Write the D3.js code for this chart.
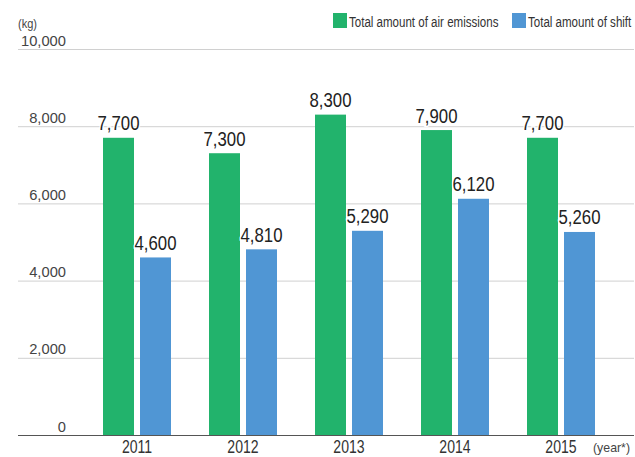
<!DOCTYPE html>
<html><head><meta charset="utf-8">
<script src="https://cdn.jsdelivr.net/npm/d3@7"></script>
<style>
html,body{margin:0;padding:0;background:#fff;}
svg{display:block;}
text{font-family:"Liberation Sans",Arial,sans-serif;}
</style></head>
<body>
<svg id="chart" width="635" height="457"></svg>
<script>
const years = ["2011","2012","2013","2014","2015"];
const seriesNames = ["Total amount of air emissions","Total amount of shift"];
const airEmissions = [7700,7300,8300,7900,7700];
const shiftAmount = [4600,4810,5290,6120,5260];
const yTicks = [0,2000,4000,6000,8000,10000];
const colors = ["#22b36c","#5096d4"];

const svg = d3.select("#chart");
const fmt = d3.format(",");

// condensed placement helper: place text at (x,y), squeezed horizontally by sx
function place(sel, fx, fy, sx){
  sel.attr("x",0).attr("y",0)
     .attr("transform",(d,i)=>`translate(${fx(d,i)},${fy(d,i)}) scale(${sx},1)`);
  return sel;
}

const y = d3.scaleLinear().domain([0,10000]).range([435,49]);
const x0 = d3.scaleBand().domain(years).range([84,614]).paddingInner(38/106).paddingOuter(19/106);
const x1 = d3.scaleBand().domain(seriesNames).range([0,x0.bandwidth()]).paddingInner(6/37);

// grid
svg.append("g").selectAll("line").data(yTicks.filter(d=>d>0)).join("line")
  .attr("x1",18).attr("x2",634).attr("y1",d=>y(d)+0.5).attr("y2",d=>y(d)+0.5)
  .attr("stroke","#d0d0d0").attr("stroke-width",1);

// tick labels
place(svg.append("g").selectAll("text").data(yTicks).join("text"),
      ()=>66, d=>y(d)-3.5, 0.95)
  .attr("text-anchor","end").attr("font-size",15.5).attr("fill","#444").text(d=>fmt(d));

place(svg.append("text").datum(0), ()=>18, ()=>28, 0.85)
  .attr("font-size",13).attr("fill","#444").text("(kg)");

// bars
const data = years.map((yr,i)=>({year:yr, vals:[airEmissions[i],shiftAmount[i]]}));
const groups = svg.append("g").selectAll("g").data(data).join("g")
  .attr("transform",d=>`translate(${x0(d.year)},0)`);
groups.selectAll("rect").data(d=>d.vals.map((v,j)=>({name:seriesNames[j],v,j}))).join("rect")
  .attr("x",d=>x1(d.name)).attr("width",x1.bandwidth())
  .attr("y",d=>y(d.v)).attr("height",d=>y(0)-y(d.v))
  .attr("fill",d=>colors[d.j]);
place(groups.selectAll("text").data(d=>d.vals.map((v,j)=>({name:seriesNames[j],v,j}))).join("text"),
      d=>x1(d.name)+x1.bandwidth()/2, d=>y(d.v)-7.5, 0.86)
  .attr("text-anchor","middle").attr("font-size",19.5).attr("fill","#222")
  .attr("stroke","#fff").attr("stroke-width",3).attr("paint-order","stroke")
  .text(d=>fmt(d.v));

// baseline
svg.append("line").attr("x1",18).attr("x2",634).attr("y1",y(0)+0.5).attr("y2",y(0)+0.5)
  .attr("stroke","#555").attr("stroke-width",1.2);

// x labels
place(svg.append("g").selectAll("text").data(years).join("text"),
      d=>x0(d)+x0.bandwidth()/2, ()=>453, 0.76)
  .attr("text-anchor","middle").attr("font-size",18.5).attr("fill","#333").text(d=>d);
place(svg.append("text").datum(0), ()=>593, ()=>452, 0.95)
  .attr("font-size",13).attr("fill","#444").text("(year*)");

// legend
const legX = [333,512];
const leg = svg.append("g").selectAll("g").data(seriesNames).join("g")
  .attr("transform",(d,i)=>`translate(${legX[i]},13)`);
leg.append("rect").attr("width",14).attr("height",15).attr("fill",(d,i)=>colors[i]);
place(leg.append("text"), ()=>16, ()=>14, 0.77)
  .attr("font-size",15).attr("fill","#333").text(d=>d);
</script>
</body></html>
